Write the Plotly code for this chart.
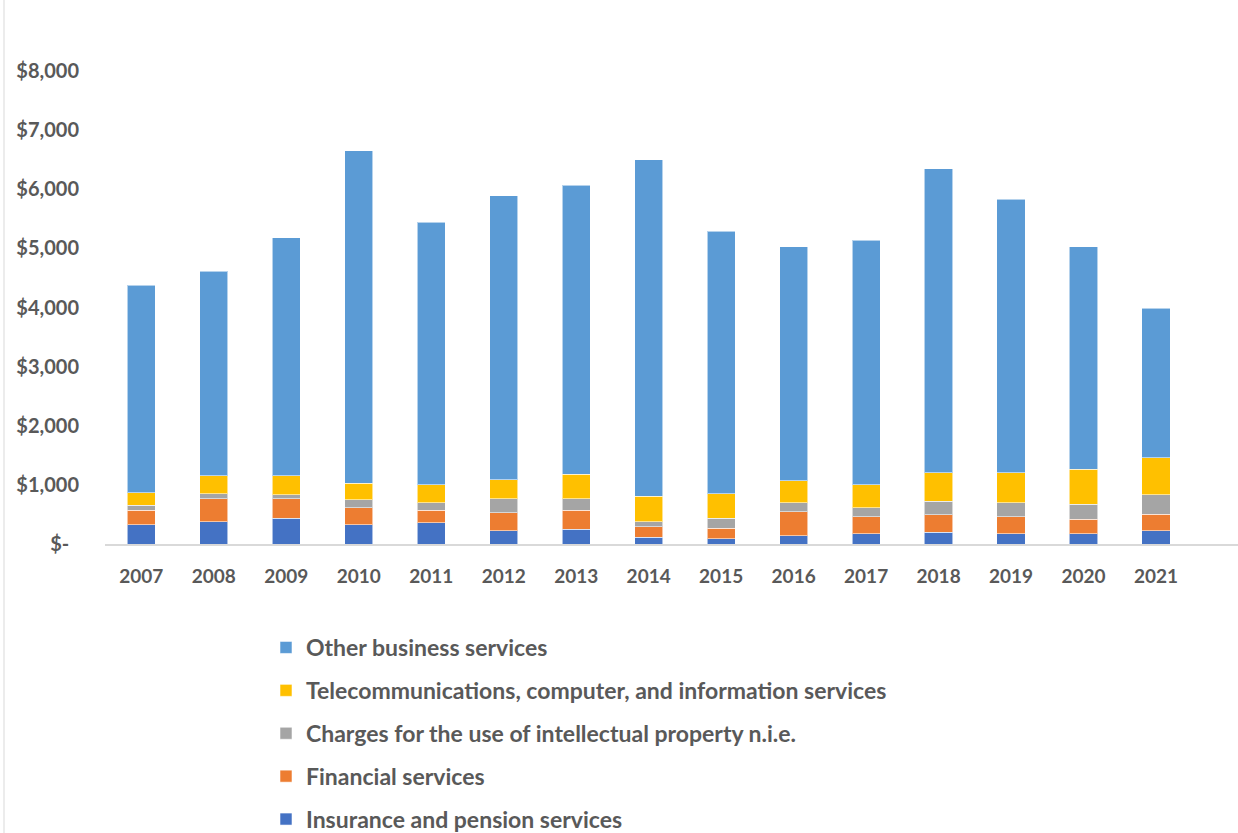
import plotly.graph_objects as go

years = ["2007", "2008", "2009", "2010", "2011", "2012", "2013", "2014",
         "2015", "2016", "2017", "2018", "2019", "2020", "2021"]

insurance = [327, 373, 434, 327, 356, 225, 247, 112, 90, 138, 175, 197, 175, 175, 225]
financial = [241, 390, 329, 288, 212, 300, 321, 176, 174, 409, 288, 300, 288, 242, 277]
ip_charges = [85, 90, 73, 131, 132, 238, 195, 90, 170, 153, 147, 225, 237, 254, 329]
telecom = [215, 305, 317, 281, 305, 327, 417, 429, 419, 368, 390, 481, 503, 593, 627]
other_business = [3508, 3455, 4025, 5623, 4437, 4803, 4888, 5690, 4436, 3957, 4137, 5142, 4628, 3761, 2528]

y_tick_vals = [0, 1000, 2000, 3000, 4000, 5000, 6000, 7000, 8000]
y_tick_text = ["$-\u00a0\u00a0", "$1,000", "$2,000", "$3,000", "$4,000",
               "$5,000", "$6,000", "$7,000", "$8,000"]

# stacked bottom-up; legend rank lists the top segment first
series = [
    ("Insurance and pension services", insurance, "#4472C4", 5),
    ("Financial services", financial, "#ED7D31", 4),
    ("Charges for the use of intellectual property n.i.e.", ip_charges, "#A5A5A5", 3),
    ("Telecommunications, computer, and information services", telecom, "#FFC000", 2),
    ("Other business services", other_business, "#5B9BD5", 1),
]

FONT = "Lato"
TEXT = "#595959"

fig = go.Figure()
for name, vals, color, rank in series:
    fig.add_trace(go.Bar(
        x=years, y=vals, name=name, legendgroup=name, legendrank=rank,
        marker=dict(color=color, line=dict(color="rgba(255,255,255,0.55)", width=1)),
    ))

fig.update_layout(
    barmode="stack",
    bargap=0.61,
    width=1238, height=833,
    margin=dict(l=105, r=0, t=12, b=289, autoexpand=False),
    plot_bgcolor="white", paper_bgcolor="white",
    font=dict(family=FONT, color=TEXT, size=18, weight="bold"),
    xaxis=dict(
        range=[-0.5, 15.13],
        showline=True, linecolor="#D9D9D9", linewidth=2,
        showgrid=False, ticks="",
        ticklabelstandoff=14,
        tickfont=dict(family=FONT, size=19, color=TEXT, weight="bold"),
    ),
    yaxis=dict(
        range=[0, 9000],
        tickvals=y_tick_vals, ticktext=y_tick_text,
        showgrid=False, zeroline=False, showline=False, ticks="",
        ticklabelstandoff=25,
        tickfont=dict(family=FONT, size=20, color=TEXT, weight="bold"),
    ),
    legend=dict(
        orientation="v",
        traceorder="grouped",
        tracegroupgap=10,
        xref="container", yref="container",
        x=266 / 1238, xanchor="left",
        y=(833 - 626) / 833, yanchor="top",
        font=dict(family=FONT, size=23, color=TEXT, weight="bold"),
        bgcolor="rgba(0,0,0,0)",
    ),
    shapes=[dict(
        type="line", xref="paper", yref="paper",
        x0=-101 / 1133, x1=-101 / 1133, y0=-289 / 532, y1=1 + 12 / 532,
        line=dict(color="#D9D9D9", width=1),
    )],
)

fig.write_html("out.html")
